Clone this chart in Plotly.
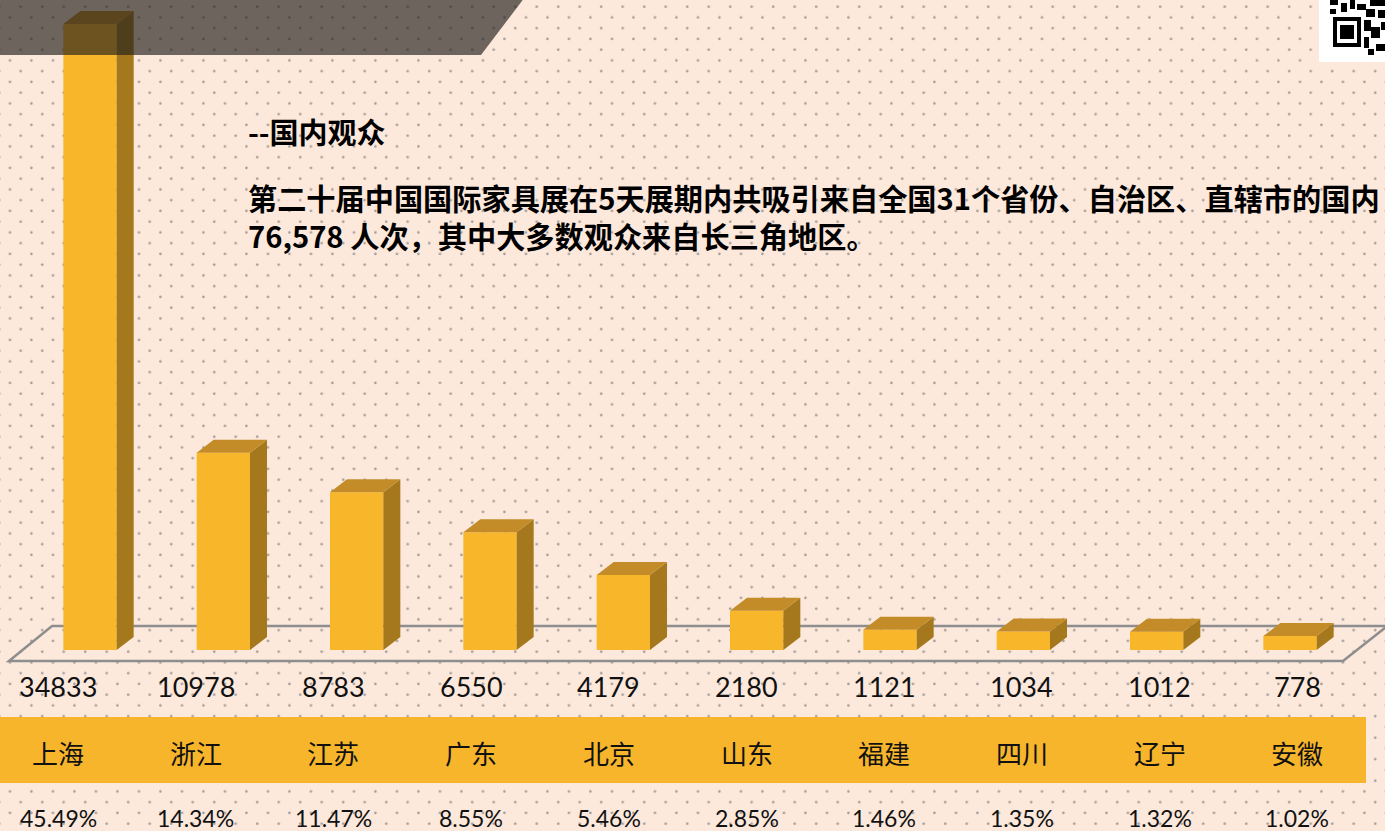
import base64
import plotly.graph_objects as go

# ---------------- data ----------------
categories = ["上海", "浙江", "江苏", "广东", "北京", "山东", "福建", "四川", "辽宁", "安徽"]
visitors = [34833, 10978, 8783, 6550, 4179, 2180, 1121, 1034, 1012, 778]
shares = ["45.49%", "14.34%", "11.47%", "8.55%", "5.46%", "2.85%", "1.46%", "1.35%", "1.32%", "1.02%"]
title_text = "--国内观众"
body_line1 = "第二十届中国国际家具展在5天展期内共吸引来自全国31个省份、自治区、直辖市的国内"
body_line2 = "76,578 人次，其中大多数观众来自长三角地区。"

# ---------------- style / geometry ----------------
W, H = 1385, 831
BG = "#FDE9DC"
FRONT = "#F8B62B"
SIDE = "#A5781E"
TOP = "#C38C28"
BAR_W = 0.4
DX = 0.1275          # depth offset in x (category units)
DY = 723             # depth offset in y (value units)
X_RANGE = [-0.675, 9.7125]
Y_RANGE = [-10072, 36169]
CJK = "Noto Sans CJK SC"
NUM = "Lato, Noto Sans, sans-serif"

n = len(categories)
xs = list(range(n))

# dotted background as an svg pattern
svg = f'''<svg xmlns="http://www.w3.org/2000/svg" width="{W}" height="{H}">
<defs><pattern id="p" patternUnits="userSpaceOnUse" x="5.7" y="0" width="21.5" height="21.5">
<circle cx="15" cy="6.7" r="1.35" fill="#a29d9a"/>
<circle cx="4.25" cy="17.45" r="1.35" fill="#a29d9a"/>
</pattern></defs>
<rect width="{W}" height="{H}" fill="url(#p)"/></svg>'''
svg_uri = "data:image/svg+xml;base64," + base64.b64encode(svg.encode()).decode()

fig = go.Figure()

# front faces
fig.add_trace(go.Bar(
    x=xs, y=visitors, width=BAR_W,
    marker=dict(color=FRONT, line=dict(width=0)),
    hoverinfo="skip",
))

# side faces
sx, sy = [], []
for i, v in zip(xs, visitors):
    r = i + BAR_W / 2
    sx += [r, r + DX, r + DX, r, r, None]
    sy += [0, DY, v + DY, v, 0, None]
fig.add_trace(go.Scatter(x=sx, y=sy, mode="lines", fill="toself", fillcolor=SIDE,
                         line=dict(width=0, color=SIDE), hoverinfo="skip"))

# top faces
tx, ty = [], []
for i, v in zip(xs, visitors):
    l, r = i - BAR_W / 2, i + BAR_W / 2
    tx += [l, r, r + DX, l + DX, l, None]
    ty += [v, v, v + DY, v + DY, v, None]
fig.add_trace(go.Scatter(x=tx, y=ty, mode="lines", fill="toself", fillcolor=TOP,
                         line=dict(width=0, color=TOP), hoverinfo="skip"))

shapes = []
# floor outline (axis frame)
floor_front, floor_back = -612, 1335
shapes.append(dict(
    type="path", xref="x", yref="y", layer="below",
    path=f"M -0.6075,{floor_front} L 9.3975,{floor_front} L 9.73,{floor_back} L -0.285,{floor_back} Z",
    line=dict(color="#8e8e8e", width=2.5), fillcolor="rgba(0,0,0,0)",
))
# yellow band behind the category labels
shapes.append(dict(type="rect", xref="paper", yref="paper", layer="below",
                   x0=-0.01, x1=1366 / W, y0=1 - 783 / H, y1=1 - 717 / H,
                   fillcolor="#F7B52C", line=dict(width=0)))
# dark translucent band top-left
shapes.append(dict(type="path", xref="paper", yref="paper", layer="above",
                   path=f"M -0.01,1.01 L {529 / W},1.01 L {481 / W},{1 - 55 / H} L -0.01,{1 - 55 / H} Z",
                   fillcolor="rgba(35,32,28,0.66)", line=dict(width=0)))
# QR code stub top-right
shapes.append(dict(type="rect", xref="paper", yref="paper", layer="above",
                   x0=1319 / W, x1=1.01, y0=1 - 62 / H, y1=1.01,
                   fillcolor="white", line=dict(width=0)))
qr = [
    (1333, 17, 1361, 47, "black"), (1337, 21, 1357, 43, "white"), (1340, 25, 1354, 39, "black"),
    (1330, 0, 1338, 5, "black"), (1341, 3, 1347, 12, "black"), (1350, 0, 1355, 9, "black"),
    (1357, 4, 1366, 10, "black"), (1370, 0, 1385, 6, "black"), (1366, 9, 1375, 17, "black"),
    (1378, 10, 1385, 18, "black"), (1364, 20, 1371, 31, "black"), (1371, 27, 1380, 38, "black"),
    (1364, 37, 1369, 48, "black"), (1376, 44, 1385, 51, "black"), (1368, 49, 1374, 55, "black"),
    (1330, 9, 1336, 14, "black"), (1381, 22, 1385, 30, "black"),
]
for x0, y0, x1, y1, c in qr:
    shapes.append(dict(type="rect", xref="paper", yref="paper", layer="above",
                       x0=x0 / W, x1=x1 / W, y0=1 - y1 / H, y1=1 - y0 / H,
                       fillcolor=c, line=dict(width=0)))

annotations = []
# table of labels under the chart
for i in range(n):
    cx = (58 + 137.7 * i) / W
    annotations.append(dict(xref="paper", yref="paper", x=cx, y=1 - 686 / H,
                            xanchor="center", yanchor="middle", showarrow=False,
                            text=f"{visitors[i]}", font=dict(family=NUM, size=27, color="#111")))
    annotations.append(dict(xref="paper", yref="paper", x=cx, y=1 - 752 / H,
                            xanchor="center", yanchor="middle", showarrow=False,
                            text=categories[i], font=dict(family=CJK, size=26, color="#111")))
    annotations.append(dict(xref="paper", yref="paper", x=cx, y=1 - 818 / H,
                            xanchor="center", yanchor="middle", showarrow=False, height=24,
                            text=shares[i], font=dict(family=NUM, size=23, color="#111")))

# heading and paragraph
annotations.append(dict(xref="paper", yref="paper", x=246 / W, y=1 - 131 / H,
                        xanchor="left", yanchor="middle", showarrow=False, text=title_text,
                        font=dict(family=CJK, size=29, color="#000", weight=700)))
annotations.append(dict(xref="paper", yref="paper", x=246 / W, y=1 - 216 / H,
                        xanchor="left", yanchor="middle", showarrow=False, align="left",
                        text=body_line1 + "<br>" + body_line2,
                        font=dict(family=CJK, size=29.2, color="#000", weight=700)))

fig.update_layout(
    width=W, height=H,
    margin=dict(l=0, r=0, t=0, b=0),
    paper_bgcolor=BG, plot_bgcolor="rgba(0,0,0,0)",
    showlegend=False,
    xaxis=dict(range=X_RANGE, visible=False, fixedrange=True),
    yaxis=dict(range=Y_RANGE, visible=False, fixedrange=True),
    shapes=shapes, annotations=annotations,
    images=[dict(source=svg_uri, xref="paper", yref="paper", x=0, y=1, sizex=1, sizey=1,
                 xanchor="left", yanchor="top", sizing="stretch", layer="below")],
)

fig.write_html("out.html", config={"displayModeBar": False})
